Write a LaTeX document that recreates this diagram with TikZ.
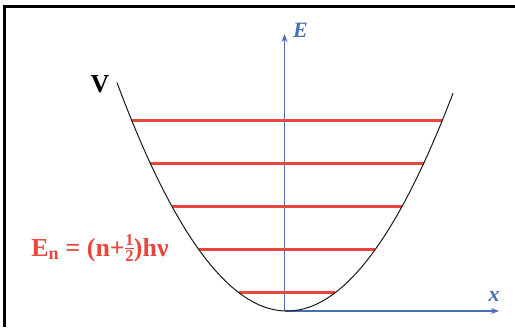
\documentclass[tikz,border=0pt]{standalone}
\usepackage{fontspec}
\setmainfont{Liberation Serif}
\usepackage{xcolor}
\definecolor{cAxis}{HTML}{4A6EB4}
\definecolor{cLevel}{HTML}{E8473E}
\definecolor{cCurve}{HTML}{1A1A1A}
\usetikzlibrary{arrows.meta}
\newcommand{\halffrac}{\ensuremath{\vcenter{\hbox{\fontsize{16.5}{12}\selectfont\bfseries
  \setlength{\arrayrulewidth}{1.3bp}\setlength{\tabcolsep}{0.5bp}%
  \begin{tabular}{c}1\\[-1bp]\hline\noalign{\vskip1bp}2\end{tabular}}}}}
\tikzset{
  frame-line/.style={line width=3bp,draw=black},
  axis/.style={-{Stealth[length=8bp,width=6bp]},line width=1.4bp,draw=cAxis},
  axis-label/.style={text=cAxis,font=\fontsize{22}{22}\selectfont\bfseries\itshape,inner sep=0pt},
  level/.style={line width=2.6bp,draw=cLevel},
  potential/.style={line width=1bp,draw=cCurve},
  big-label/.style={font=\fontsize{26}{26}\selectfont\bfseries,inner sep=0pt},
}

\begin{document}
\begin{tikzpicture}[x=1bp,y=-1bp]
  \useasboundingbox (0,0) rectangle (515,327);
  % frame (only top and left edges are visible)
  \coordinate (fb) at (4.5,327);
  \coordinate (ft) at (4.5,6);
  \coordinate (fr) at (515,6);
  \draw[frame-line] (fb) -- (ft) -- (fr);
  % axes
  \coordinate (o) at (284.5,311);
  \coordinate (etop) at (284.5,34);
  \coordinate (xend) at (499,311);
  \draw[axis] (o) -- (etop);
  \draw[axis] (o) -- (xend);
  \node[axis-label,anchor=south west] (elab) at (293,38) {E};
  \node[axis-label,anchor=south] (xlab) at (494,302) {x};
  % energy levels, ending on the parabola (1/sqrt(0.0079) = 11.25)
  \foreach \k in {0,...,4}{
    \pgfmathsetmacro{\yy}{292.5-43*\k}
    \pgfmathsetmacro{\hw}{11.25*sqrt(311-\yy)}
    \coordinate (l\k) at ({287-\hw},\yy);
    \coordinate (r\k) at ({287+\hw},\yy);
    \draw[level] (l\k) -- (r\k);
  }
  % potential
  \draw[potential] plot[domain=-170:166,samples=80,smooth] ({287+\x},{311-(0.0889*\x)^2});
  \node[big-label,anchor=base] (vlab) at (100,92) {V};
  \node[big-label,text=cLevel,anchor=base] (en) at (100,256)
    {E\textsubscript{n} = (n+\halffrac)hν};
\end{tikzpicture}
\end{document}
